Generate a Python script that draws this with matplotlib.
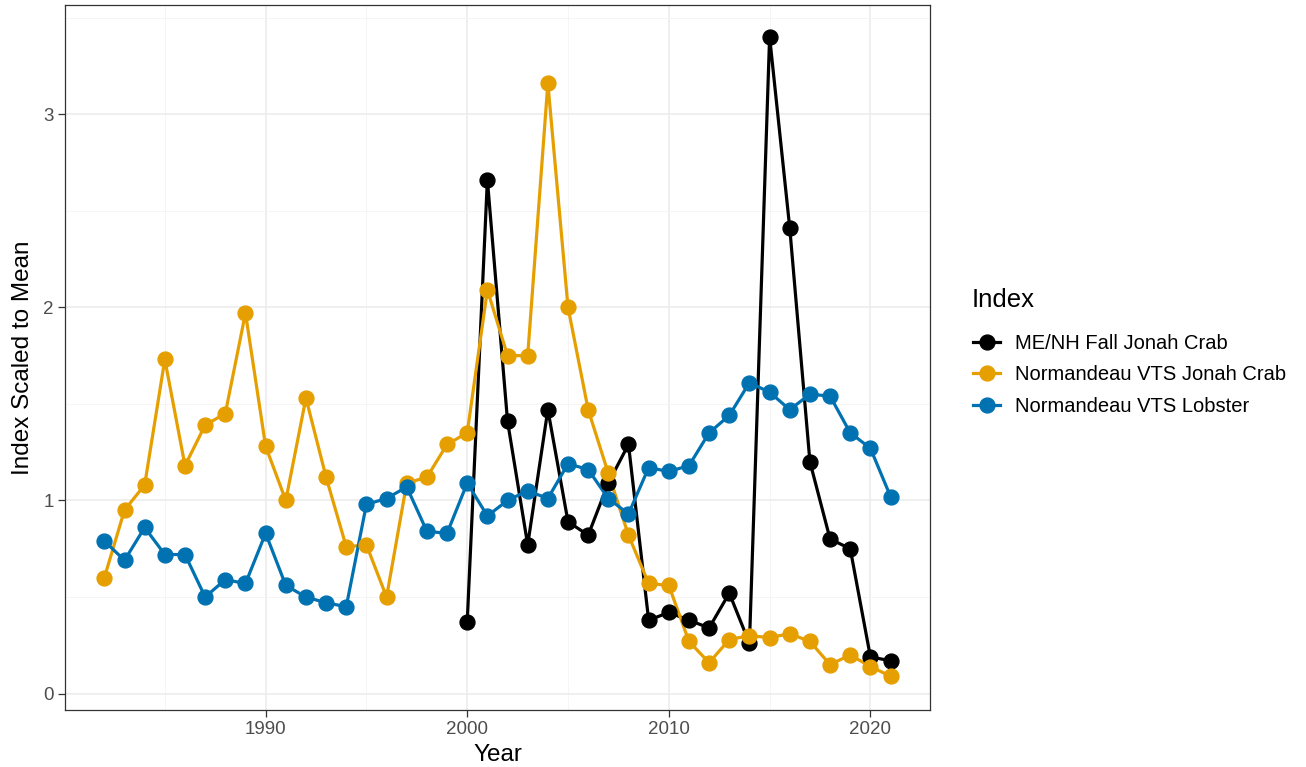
import matplotlib
matplotlib.use("Agg")
import matplotlib.pyplot as plt
from matplotlib.ticker import MultipleLocator
from matplotlib.lines import Line2D

plt.rcParams['font.family'] = ['Liberation Sans', 'DejaVu Sans']

years_vts = list(range(1982, 2022))
vts_jonah = [0.60, 0.95, 1.08, 1.73, 1.18, 1.39, 1.45, 1.97, 1.28, 1.00,
             1.53, 1.12, 0.76, 0.77, 0.50, 1.09, 1.12, 1.29, 1.35, 2.09,
             1.75, 1.75, 3.16, 2.00, 1.47, 1.14, 0.82, 0.57, 0.56, 0.27,
             0.16, 0.28, 0.30, 0.29, 0.31, 0.27, 0.15, 0.20, 0.14, 0.09]
vts_lobster = [0.79, 0.69, 0.86, 0.72, 0.72, 0.50, 0.59, 0.57, 0.83, 0.56,
               0.50, 0.47, 0.45, 0.98, 1.01, 1.07, 0.84, 0.83, 1.09, 0.92,
               1.00, 1.05, 1.01, 1.19, 1.16, 1.01, 0.93, 1.17, 1.15, 1.18,
               1.35, 1.44, 1.61, 1.56, 1.47, 1.55, 1.54, 1.35, 1.27, 1.02]
years_menh = list(range(2000, 2022))
menh_jonah = [0.37, 2.66, 1.41, 0.77, 1.47, 0.89, 0.82, 1.09, 1.29, 0.38,
              0.42, 0.38, 0.34, 0.52, 0.26, 3.40, 2.41, 1.20, 0.80, 0.75,
              0.19, 0.17]

series_names = ["ME/NH Fall Jonah Crab", "Normandeau VTS Jonah Crab", "Normandeau VTS Lobster"]
colors = ["#000000", "#E69F00", "#0072B2"]

fig = plt.figure(figsize=(13.06, 7.67), dpi=100)
ax = fig.add_axes([0.0498, 0.0743, 0.6622, 0.9192])

data = [(years_menh, menh_jonah), (years_vts, vts_jonah), (years_vts, vts_lobster)]
LW, MS = 2.3, 10.7
# lines first (all groups), then points (all groups), like ggplot layers
for (x, y), c in zip(data, colors):
    ax.plot(x, y, '-', color=c, lw=LW, zorder=2)
for (x, y), c in zip(data, colors):
    ax.plot(x, y, 'o', color=c, ms=MS, lw=0, zorder=3)

ax.set_xlim(1980.05, 2022.95)
ax.set_ylim(-0.085, 3.565)
ax.xaxis.set_major_locator(MultipleLocator(10))
ax.xaxis.set_minor_locator(MultipleLocator(5))
ax.yaxis.set_major_locator(MultipleLocator(1))
ax.yaxis.set_minor_locator(MultipleLocator(0.5))
ax.grid(which='major', color='#EBEBEB', lw=1.1, zorder=0)
ax.grid(which='minor', color='#F4F4F4', lw=0.6, zorder=0)
ax.set_axisbelow(True)
ax.tick_params(which='minor', length=0)
ax.tick_params(which='major', length=5, width=0.9, color='#333333',
               labelcolor='#4D4D4D', labelsize=13.5, pad=3)
for s in ax.spines.values():
    s.set_color('#333333')
    s.set_linewidth(0.9)

ax.set_xlabel("Year", fontsize=17.5, labelpad=4)
ax.set_ylabel("Index Scaled to Mean", fontsize=17.5, labelpad=7)

handles = [Line2D([], [], color=c, lw=LW, marker='o', ms=MS) for c in colors]
fig.text(972 / 1306, 1 - 300 / 767, "Index", fontsize=18.5, va='center', ha='left')
fig.legend(handles=handles, labels=series_names,
           loc='center left', bbox_to_anchor=(973 / 1306, 1 - 375 / 767),
           frameon=False, fontsize=14.5, borderpad=0, borderaxespad=0,
           handlelength=1.35, handletextpad=0.75, labelspacing=0.62)

fig.savefig("out.png", dpi=100)
